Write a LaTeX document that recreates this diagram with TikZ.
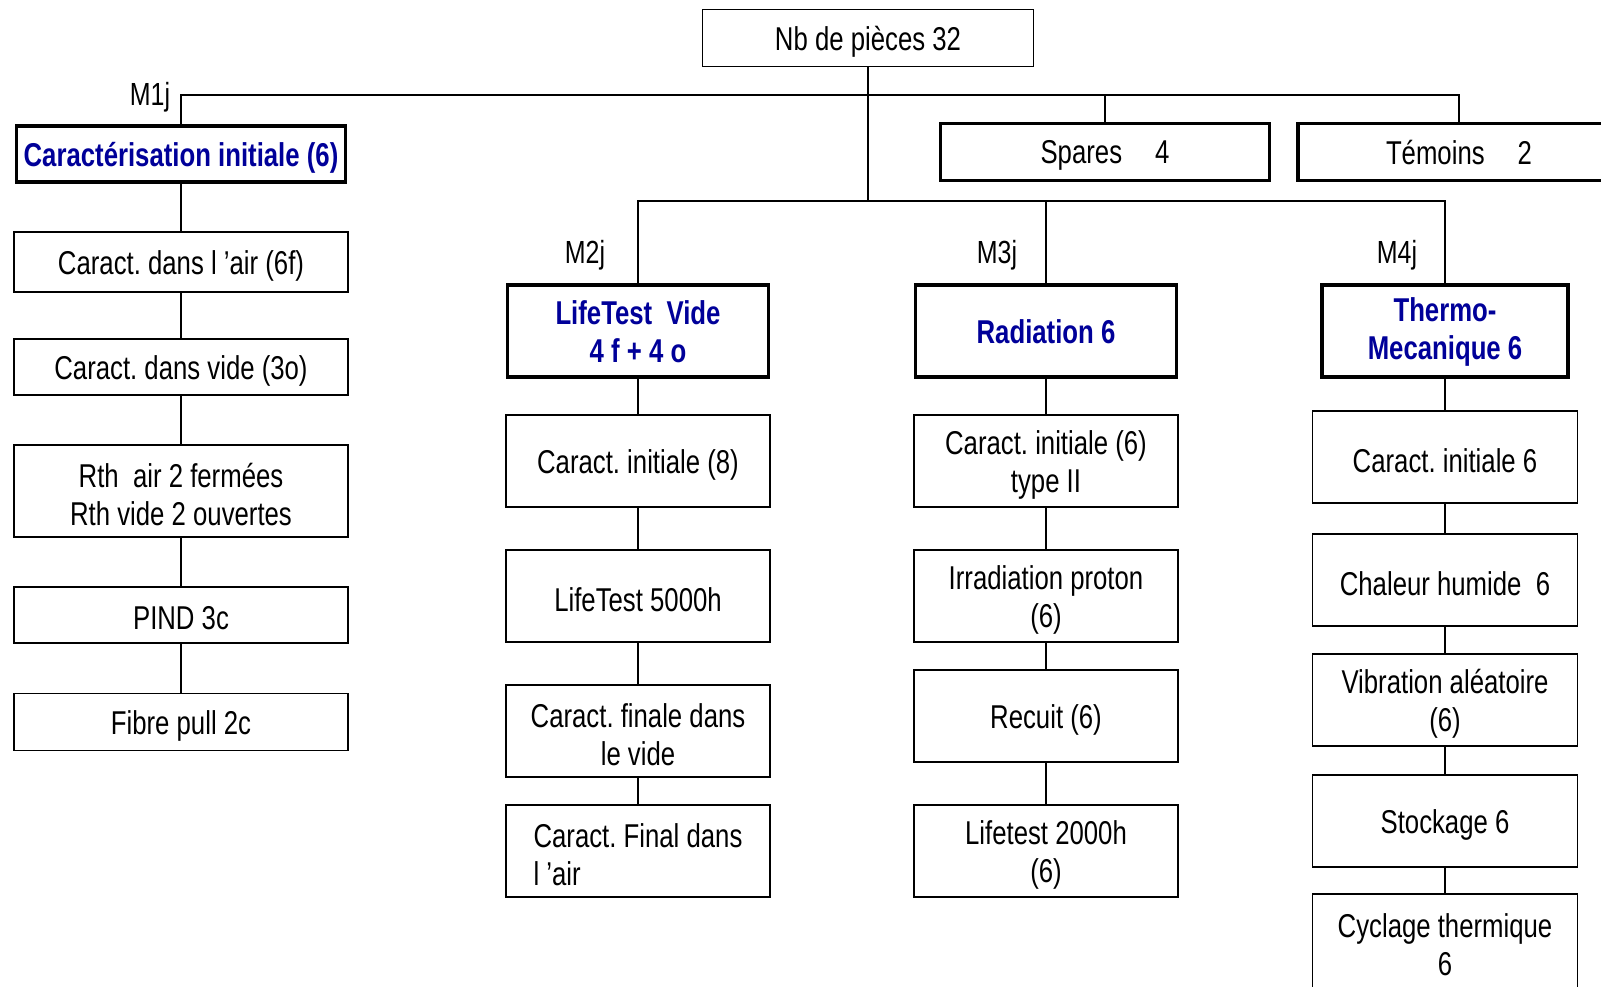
\documentclass[tikz,border=0pt]{standalone}
\usepackage{fontspec}
\setmainfont{Liberation Sans}[FakeStretch=0.78]
\definecolor{tblue}{RGB}{0,0,153}
\frenchspacing
\begin{document}
\begin{tikzpicture}[x=1pt,y=-1pt,
  txt/.style={align=center,inner sep=0pt,yshift=-3.5pt,font=\fontsize{33}{38}\selectfont},
  htxt/.style={txt,text=tblue,font=\bfseries\fontsize{33}{38}\selectfont},
  box/.style={draw,line width=1.6pt,inner sep=0pt,label={[txt]center:#1}},
  hbox/.style={draw,line width=3.6pt,inner sep=0pt,label={[htxt]center:#1}},
  mbox/.style={draw,line width=3.6pt,inner sep=0pt,label={[htxt,yshift=2.5pt]center:#1}},
  kbox/.style={draw,line width=3.6pt,inner sep=0pt,label={[txt]center:#1}},
  lbox/.style={draw,line width=1.6pt,inner sep=0pt,label={[txt,align=left]center:#1}},
  conn/.style={draw,line width=1.4pt},
  lab/.style={font=\fontsize{32}{36}\selectfont,inner sep=0pt}]
\useasboundingbox (0,0) rectangle (1601,986);
\clip (0,0) rectangle (1601,986);
% top
\node[box={Nb de pièces 32},minimum width=331,minimum height=57] (top) at (868,38) {};
\node[kbox={Spares\quad 4},minimum width=329,minimum height=57] (spa) at (1105,152) {};
\node[kbox={T\smash{é}moins\quad 2\vphantom{p}},minimum width=322,minimum height=57] (tem) at (1459,152) {};
% column 1
\node[hbox={Caractérisation initiale (6)},minimum width=329,minimum height=56] (c1h) at (181,154) {};
\node[box={Caract. dans l ’air (6f)},minimum width=334,minimum height=60] (c1a) at (181,262) {};
\node[box={Caract. dans vide (3o)},minimum width=334,minimum height=56] (c1b) at (181,367) {};
\node[box={Rth\ \ air 2 fermées\\Rth vide 2 ouvertes},minimum width=334,minimum height=92] (c1c) at (181,491) {};
\node[box={PIND 3c},minimum width=334,minimum height=56] (c1d) at (181,615) {};
\node[box={Fibre pull 2c},minimum width=334,minimum height=57] (c1e) at (181,722) {};
% column 2
\node[mbox={LifeTest\ \ Vide\\4 f + 4 o},minimum width=261,minimum height=92] (c2h) at (638,331) {};
\node[box={Caract. initiale (8)},minimum width=264,minimum height=92] (c2a) at (638,461) {};
\node[box={LifeTest 5000h},minimum width=264,minimum height=92] (c2b) at (638,596) {};
\node[box={Caract. finale dans\\le vide},minimum width=264,minimum height=92] (c2c) at (638,731) {};
\node[lbox={Caract. Final dans\\l ’air},minimum width=264,minimum height=92] (c2d) at (638,851) {};
% column 3
\node[mbox={Radiation 6},minimum width=261,minimum height=92] (c3h) at (1046,331) {};
\node[box={Caract. initiale (6)\\type II},minimum width=264,minimum height=92] (c3a) at (1046,461) {};
\node[box={Irradiation proton\\(6)},minimum width=264,minimum height=92] (c3b) at (1046,596) {};
\node[box={Recuit (6)},minimum width=264,minimum height=92] (c3c) at (1046,716) {};
\node[box={Lifetest 2000h\\(6)},minimum width=264,minimum height=92] (c3d) at (1046,851) {};
% column 4
\node[mbox={Thermo-\\Mecanique 6},minimum width=246,minimum height=92] (c4h) at (1445,331) {};
\node[box={Caract. initiale 6},minimum width=265,minimum height=92] (c4a) at (1445,457) {};
\node[box={Chaleur humide\ \ 6},minimum width=265,minimum height=92] (c4b) at (1445,580) {};
\node[box={Vibration aléatoire\\(6)},minimum width=265,minimum height=92] (c4c) at (1445,700) {};
\node[box={Stockage 6},minimum width=265,minimum height=92] (c4d) at (1445,821) {};
\node[box={Cyclage thermique\\6},minimum width=265,minimum height=94] (c4e) at (1445,941) {};
% labels
\node[lab] (l1) at (150,97) {M1j};
\node[lab] (l2) at (585,255) {M2j};
\node[lab] (l3) at (997,255) {M3j};
\node[lab] (l4) at (1397,255) {M4j};
% trunk
\coordinate (j1) at (868,95);
\coordinate (j2) at (868,201);
\draw[conn] (top.south) -- (j2);
\draw[conn] (c1h.north) -- (c1h.north |- j1) -- (tem.north |- j1) -- (tem.north);
\draw[conn] (spa.north) -- (spa.north |- j1);
\draw[conn] (c2h.north) -- (c2h.north |- j2) -- (c4h.north |- j2) -- (c4h.north);
\draw[conn] (c3h.north) -- (c3h.north |- j2);
% column links
\draw[conn] (c1h) -- (c1a) (c1a) -- (c1b) (c1b) -- (c1c) (c1c) -- (c1d) (c1d) -- (c1e);
\draw[conn] (c2h) -- (c2a) (c2a) -- (c2b) (c2b) -- (c2c) (c2c) -- (c2d);
\draw[conn] (c3h) -- (c3a) (c3a) -- (c3b) (c3b) -- (c3c) (c3c) -- (c3d);
\draw[conn] (c4h) -- (c4a) (c4a) -- (c4b) (c4b) -- (c4c) (c4c) -- (c4d) (c4d) -- (c4e);
\end{tikzpicture}
\end{document}
